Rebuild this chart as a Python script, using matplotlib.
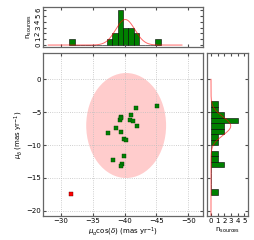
import numpy as np
import matplotlib.pyplot as plt
from matplotlib.patches import Ellipse

# proper motions of the members (mas/yr)
pmra = [-41.80, -45.05, -41.02, -39.50, -39.34, -40.91, -41.29, -42.00, -38.67,
        -37.46, -39.50, -39.85, -40.28, -39.85, -38.15, -39.61, -39.50, -39.45]
pmdec = [-4.30, -4.00, -5.43, -5.69, -6.19, -6.24, -6.39, -7.11, -7.41,
         -8.13, -8.07, -9.09, -9.24, -11.63, -12.33, -12.85, -13.20, -5.95]

# outlier
pmra_out = [-31.60]
pmdec_out = [-17.50]

# selection ellipse: centre, full width, full height
ell_centre = (-40.24, -7.03)
ell_width = 12.54
ell_height = 15.98

# gaussian fits: amplitude, mean, sigma
fit_ra = (4.4, -40.1, 1.5)
fit_dec = (2.95, -7.1, 1.4)

xticks = [-30, -35, -40, -45, -50]
yticks = [0, -5, -10, -15, -20]
nticks_top = [0, 1, 2, 3, 4, 5, 6]
nticks_right = [0, 1, 2, 3, 4, 5]

plt.rcParams.update({'font.size': 5, 'axes.linewidth': 0.9,
                     'axes.edgecolor': '0.4'})

fig = plt.figure(figsize=(2.55, 2.4), dpi=100)
ax = fig.add_axes([0.169, 0.100, 0.627, 0.679])
axt = fig.add_axes([0.169, 0.805, 0.627, 0.167], sharex=ax)
axr = fig.add_axes([0.813, 0.100, 0.160, 0.679], sharey=ax)

all_ra = pmra + pmra_out
all_dec = pmdec + pmdec_out

# --- main panel ---
ax.add_patch(Ellipse(ell_centre, ell_width, ell_height, facecolor='red',
                     alpha=0.2, edgecolor='none', zorder=1))
ax.scatter(pmra, pmdec, marker='s', s=7, c='green', edgecolors='#004000',
           linewidths=0.3, zorder=3)
ax.scatter(pmra_out, pmdec_out, marker='s', s=6, c='red', edgecolors='#600000',
           linewidths=0.3, zorder=3)
ax.set_xlim(-27.2, -52.3)
ax.set_ylim(-20.8, 4.0)
ax.set_xticks(xticks)
ax.set_yticks(yticks)
ax.grid(True, linestyle=':', color='0.75', linewidth=0.6)
ax.set_xlabel(r'$\mu_{\alpha}\cos(\delta)$ (mas yr$^{-1}$)', labelpad=1)
ax.set_ylabel(r'$\mu_{\delta}$ (mas yr$^{-1}$)', labelpad=1)

# --- top histogram ---
ra_edges = -31.3 - 0.845 * np.arange(18)
axt.hist(all_ra, bins=ra_edges[::-1], color='green', edgecolor='black',
         linewidth=0.4)
xx = np.linspace(-28.0, -49.0, 300)
a, m, s = fit_ra
axt.plot(xx, a * np.exp(-0.5 * ((xx - m) / s) ** 2), color='red', lw=0.7,
         alpha=0.6)
axt.set_ylim(-0.3, 6.6)
axt.set_yticks(nticks_top)
axt.set_yticklabels([str(n) for n in nticks_top], rotation=90, va='center')
axt.set_ylabel(r'n$_{\rm sources}$', labelpad=1)
axt.tick_params(labelbottom=False)

# --- right histogram ---
dec_edges = -3.30 - 0.837 * np.arange(18)
axr.hist(all_dec, bins=dec_edges[::-1], orientation='horizontal', color='green',
         edgecolor='black', linewidth=0.4)
yy = np.linspace(0.0, -20.7, 300)
a, m, s = fit_dec
axr.plot(a * np.exp(-0.5 * ((yy - m) / s) ** 2), yy, color='red', lw=0.7,
         alpha=0.6)
axr.set_xlim(-0.55, 5.55)
axr.set_xticks(nticks_right)
axr.set_xlabel(r'n$_{\rm sources}$', labelpad=1)
axr.tick_params(labelleft=False)

for a_ in (ax, axt, axr):
    a_.tick_params(direction='in', top=True, right=True, length=2.5,
                   width=0.8, color='0.3', pad=1.5)

plt.savefig('out.png', dpi=100)
